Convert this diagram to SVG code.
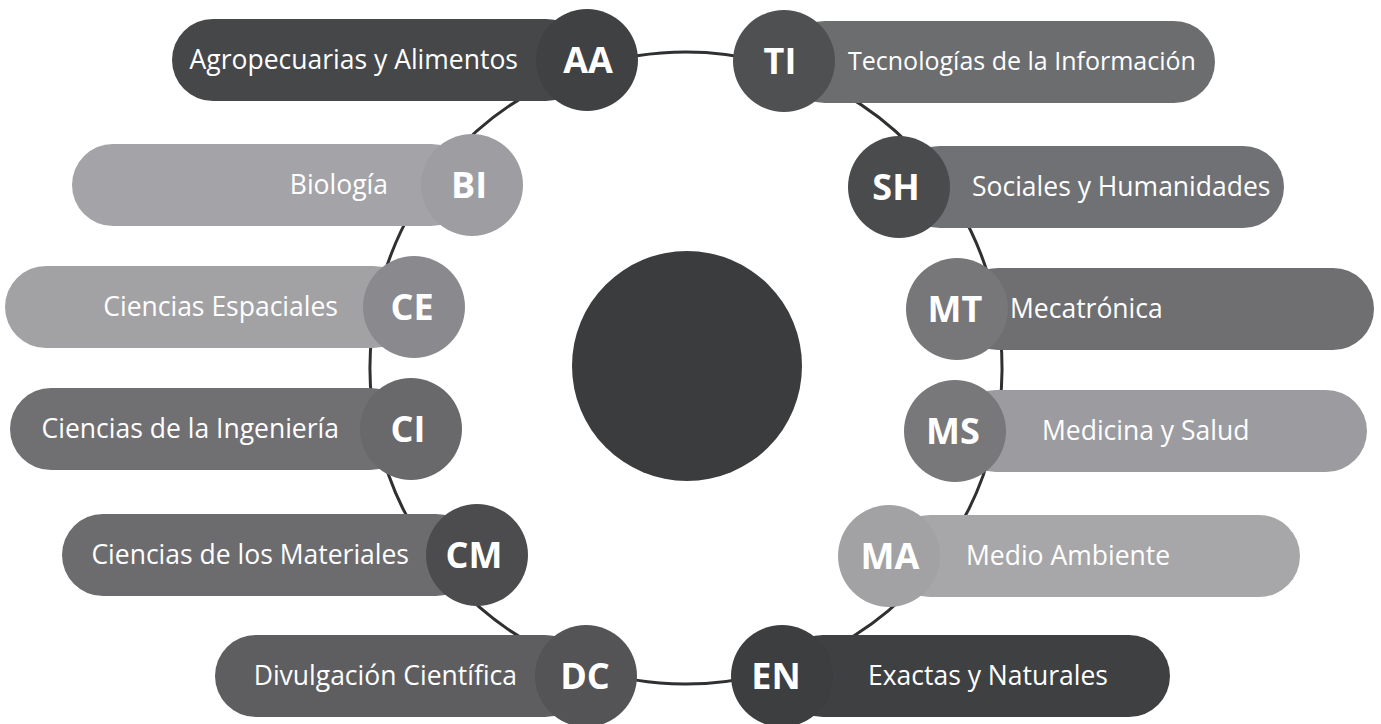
<svg xmlns="http://www.w3.org/2000/svg" width="1381" height="724" viewBox="0 0 1381 724">
<style>
.lbl{font-family:"Open Sans","Liberation Sans",sans-serif;font-size:26.5px;fill:#ffffff}
.ab{font-family:"Open Sans","Liberation Sans",sans-serif;font-size:36px;font-weight:bold;fill:#ffffff;text-anchor:middle}
.l{text-anchor:end}
.ring{fill:none;stroke:#2e3032;stroke-width:3}
</style>
<rect width="1381" height="724" fill="#ffffff"/>
<g id="connectors">
<path class="ring" d="M589.3,67.2 A316,316 0 0 1 783,67.3"/>
<path class="ring" d="M783,67.3 A316,316 0 0 1 926.2,162.7"/>
<path class="ring" d="M926.2,162.7 A316,316 0 0 1 994.8,300.8"/>
<path class="ring" d="M994.8,300.8 A316,316 0 0 1 993.6,440"/>
<path class="ring" d="M993.6,440 A316,316 0 0 1 918.4,582.1"/>
<path class="ring" d="M918.4,582.1 A316,316 0 0 1 780,669.7"/>
<path class="ring" d="M780,669.7 A316,316 0 0 1 588.4,668.6"/>
<path class="ring" d="M588.4,668.6 A316,316 0 0 1 450,578.1"/>
<path class="ring" d="M450,578.1 A316,316 0 0 1 377.5,436.4"/>
<path class="ring" d="M377.5,436.4 A316,316 0 0 1 377.7,298.9"/>
<path class="ring" d="M377.7,298.9 A316,316 0 0 1 445.8,162.6"/>
<path class="ring" d="M445.8,162.6 A316,316 0 0 1 589.3,67.2"/>
</g>
<g id="center"><circle cx="687" cy="366" r="115" fill="#3a3c3e"/></g>
<g id="AA">
<rect x="172" y="19" width="415" height="82" rx="41" fill="#454749"/>
<circle cx="587" cy="60" r="51" fill="#3f4143"/>
<text class="lbl l" x="518" y="69">Agropecuarias y Alimentos</text>
<text class="ab" x="588" y="73">AA</text>
</g>
<g id="TI">
<rect x="784" y="21" width="431" height="82" rx="41" fill="#6b6d6f"/>
<circle cx="784" cy="61" r="51" fill="#4e5052"/>
<text class="lbl" x="848" y="70" style="font-size:25px">Tecnologías de la Información</text>
<text class="ab" x="780" y="74">TI</text>
</g>
<g id="BI">
<rect x="72" y="144" width="400" height="82" rx="41" fill="#a4a4a8"/>
<circle cx="472" cy="185" r="51" fill="#9e9ea2"/>
<text class="lbl l" x="388" y="194">Biología</text>
<text class="ab" x="469" y="198">BI</text>
</g>
<g id="SH">
<rect x="899" y="146" width="385" height="82" rx="41" fill="#707174"/>
<circle cx="899" cy="187" r="51" fill="#4a4b4d"/>
<text class="lbl" x="972" y="196">Sociales y Humanidades</text>
<text class="ab" x="896" y="200">SH</text>
</g>
<g id="CE">
<rect x="5" y="266" width="409" height="82" rx="41" fill="#a2a2a5"/>
<circle cx="414" cy="307" r="51" fill="#8a8a8e"/>
<text class="lbl l" x="338" y="316">Ciencias Espaciales</text>
<text class="ab" x="412" y="320">CE</text>
</g>
<g id="MT">
<rect x="957" y="268" width="417" height="82" rx="41" fill="#6f6f72"/>
<circle cx="957" cy="309" r="51" fill="#77777a"/>
<text class="lbl" x="1010" y="318">Mecatrónica</text>
<text class="ab" x="955" y="322">MT</text>
</g>
<g id="CI">
<rect x="10" y="388" width="401" height="82" rx="41" fill="#707073"/>
<circle cx="411" cy="429" r="51" fill="#69696c"/>
<text class="lbl l" x="339" y="438">Ciencias de la Ingeniería</text>
<text class="ab" x="408" y="442">CI</text>
</g>
<g id="MS">
<rect x="955" y="390" width="412" height="82" rx="41" fill="#9c9ca0"/>
<circle cx="955" cy="431" r="51" fill="#78787b"/>
<text class="lbl" x="1042" y="440">Medicina y Salud</text>
<text class="ab" x="953" y="444">MS</text>
</g>
<g id="CM">
<rect x="62" y="514" width="415" height="82" rx="41" fill="#6c6c6f"/>
<circle cx="477" cy="555" r="51" fill="#4c4c4f"/>
<text class="lbl l" x="409" y="564">Ciencias de los Materiales</text>
<text class="ab" x="474" y="568">CM</text>
</g>
<g id="MA">
<rect x="889" y="515" width="411" height="82" rx="41" fill="#a7a7aa"/>
<circle cx="889" cy="556" r="51" fill="#a2a2a5"/>
<text class="lbl" x="966" y="565">Medio Ambiente</text>
<text class="ab" x="890" y="569">MA</text>
</g>
<g id="DC">
<rect x="215" y="635" width="371" height="82" rx="41" fill="#5e5e61"/>
<circle cx="586" cy="676" r="51" fill="#545457"/>
<text class="lbl l" x="517" y="685">Divulgación Científica</text>
<text class="ab" x="585" y="689">DC</text>
</g>
<g id="EN">
<rect x="782" y="635" width="388" height="82" rx="41" fill="#3e4042"/>
<circle cx="782" cy="676" r="51" fill="#3c3e40"/>
<text class="lbl" x="868" y="685">Exactas y Naturales</text>
<text class="ab" x="776" y="689">EN</text>
</g>
</svg>
